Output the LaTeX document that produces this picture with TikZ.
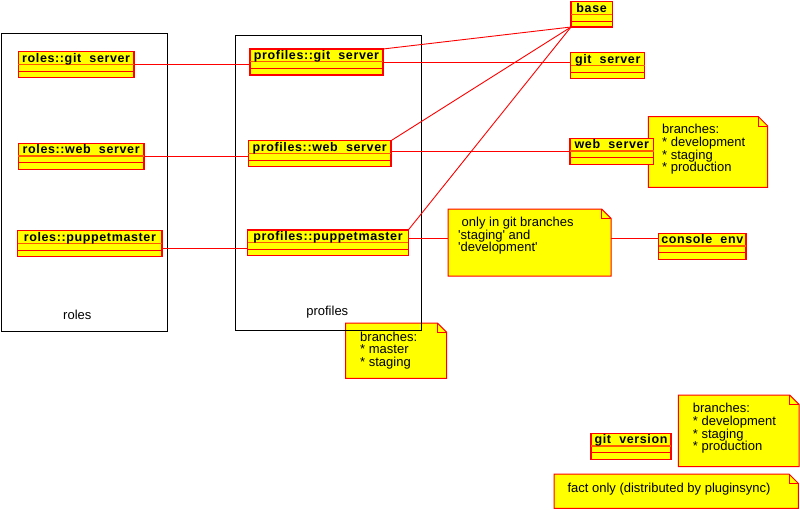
\documentclass[tikz,border=0pt]{standalone}
\usepackage{fontspec}
\setmainfont{Liberation Sans}
\newfontfamily\clsfont{Liberation Sans}[LetterSpace=5,WordSpace=2]
\usetikzlibrary{calc}
\definecolor{umlred}{RGB}{255,0,0}
\definecolor{umlyel}{RGB}{255,255,0}
\definecolor{umlorange}{RGB}{255,90,0}
\tikzset{
  clsbox/.style={draw=umlred, fill=umlyel, line width=1.1pt, inner sep=0pt, outer sep=0pt, anchor=north west},
  clssep/.style={draw=umlred, line width=1pt},
  clstitle/.style={draw=umlorange, line width=1.3pt},
  clstext/.style={font=\clsfont\bfseries\fontsize{12.5}{13}\selectfont, inner sep=0pt, anchor=base},
  pkgbox/.style={draw=black, line width=1pt, inner sep=0pt, outer sep=0pt, anchor=north west},
  pkgtext/.style={font=\fontsize{13}{13}\selectfont, inner sep=0pt, anchor=base},
  notebox/.style={inner sep=0pt, outer sep=0pt, anchor=north west},
  noteshape/.style={draw=umlred, fill=umlyel, line width=1pt, line join=miter},
  notefold/.style={draw=umlred, line width=1pt},
  notetext/.style={font=\fontsize{13}{12.7}\selectfont, align=left, inner sep=0pt, anchor=north west},
  link/.style={draw=umlred, line width=0.9pt},
}
\newcommand\umlclass[6]{%
  \node[clsbox, minimum width=#4pt, minimum height=#5pt] (#1) at (#2,#3) {};
  \draw[clstitle] ($(#1.north west)+(0,12.7)$) -- ($(#1.north east)+(0,12.7)$);
  \draw[clssep] ($(#1.north west)+(0,19.5)$) -- ($(#1.north east)+(0,19.5)$);
  \node[clstext] (#1-t) at ($(#1.north)+(0,10.3)$) {#6};
}
\newcommand\umlnote[5]{%
  \node[notebox, minimum width=#4pt, minimum height=#5pt] (#1) at (#2,#3) {};
  \path[noteshape] (#1.north west) -- ($(#1.north east)+(-9.3,0)$) -- ($(#1.north east)+(0,9.3)$) -- (#1.south east) -- (#1.south west) -- cycle;
  \draw[notefold] ($(#1.north east)+(-9.3,0)$) -- ($(#1.north east)+(-9.3,9.3)$) -- ($(#1.north east)+(0,9.3)$);
}
\begin{document}
\begin{tikzpicture}[x=1pt,y=-1pt]
\useasboundingbox[fill=white] (0,0) rectangle (800,509);
% notes
\umlnote{nweb}{648.3}{116.7}{119.4}{70.6}
\node[notetext] (nweb-t) at (662,124) {branches:\\* development\\* staging\\* production};
\umlnote{nonly}{448}{209}{163}{67}
\node[notetext] (nonly-t) at (458,216.7) {\hspace*{3.5pt}only in git branches\\\textquotesingle staging\textquotesingle{} and\\\textquotesingle development\textquotesingle};
\umlnote{nprof}{345.7}{323}{101}{55.3}
\node[notetext] (nprof-t) at (360,331.4) {branches:\\* master\\* staging};
\umlnote{nbot}{678.3}{395}{120.7}{71.7}
\node[notetext] (nbot-t) at (692.7,403) {branches:\\* development\\* staging\\* production};
\umlnote{nfact}{554}{474}{244.3}{34.3}
\node[notetext] (nfact-t) at (567.3,482.4) {fact only (distributed by pluginsync)};
% packages
\node[pkgbox, minimum width=166pt, minimum height=298pt] (roles) at (1.3,33) {};
\node[pkgtext] (roles-l) at (77.3,319) {roles};
\node[pkgbox, minimum width=185.3pt, minimum height=294.3pt] (profiles) at (235.7,35.7) {};
\node[pkgtext] (profiles-l) at (327.3,315.7) {profiles};
% classes
\umlclass{rg}{18.3}{51.7}{115.7}{26}{roles::git server}
\umlclass{rw}{18.3}{143.3}{125.7}{26}{roles::web server}
\umlclass{rp}{17.7}{230.7}{144.3}{26}{roles::puppetmaster}
\umlclass{pg}{250}{49}{133}{26}{profiles::git server}
\umlclass{pw}{248.3}{140.7}{142.7}{26}{profiles::web server}
\umlclass{pp}{247.7}{230}{160.6}{25.7}{profiles::puppetmaster}
\umlclass{base}{571}{1.7}{41.3}{25.3}{base}
\umlclass{gs}{570.7}{52.7}{74}{26}{git server}
\umlclass{ws}{570}{138.3}{83.7}{26}{web server}
\umlclass{ce}{658.5}{233.3}{87.5}{26}{console env}
\umlclass{gv}{591}{433.3}{80}{26}{git version}
% connectors
\coordinate (rpx) at ($(rp.north east)+(0,17.6)$);
\coordinate (ppx) at ($(pp.north east)+(0,8.5)$);
\draw[link] (rg.east) -- (rg.east -| pg.west);
\draw[link] (rw.east) -- (rw.east -| pw.west);
\draw[link] (rpx) -- (rpx -| pp.west);
\draw[link] (pg.north east) -- (base.south west);
\draw[link] (pg.east) -- (pg.east -| gs.west);
\draw[link] (pw.north east) -- (base.south west);
\draw[link] (ws.west -| pw.east) -- (ws.west);
\draw[link] (pp.north east) -- (base.south west);
\draw[link] (ppx) -- (ppx -| nonly.west);
\draw[link] (ppx -| nonly.east) -- (ppx -| ce.west);
\end{tikzpicture}
\end{document}
